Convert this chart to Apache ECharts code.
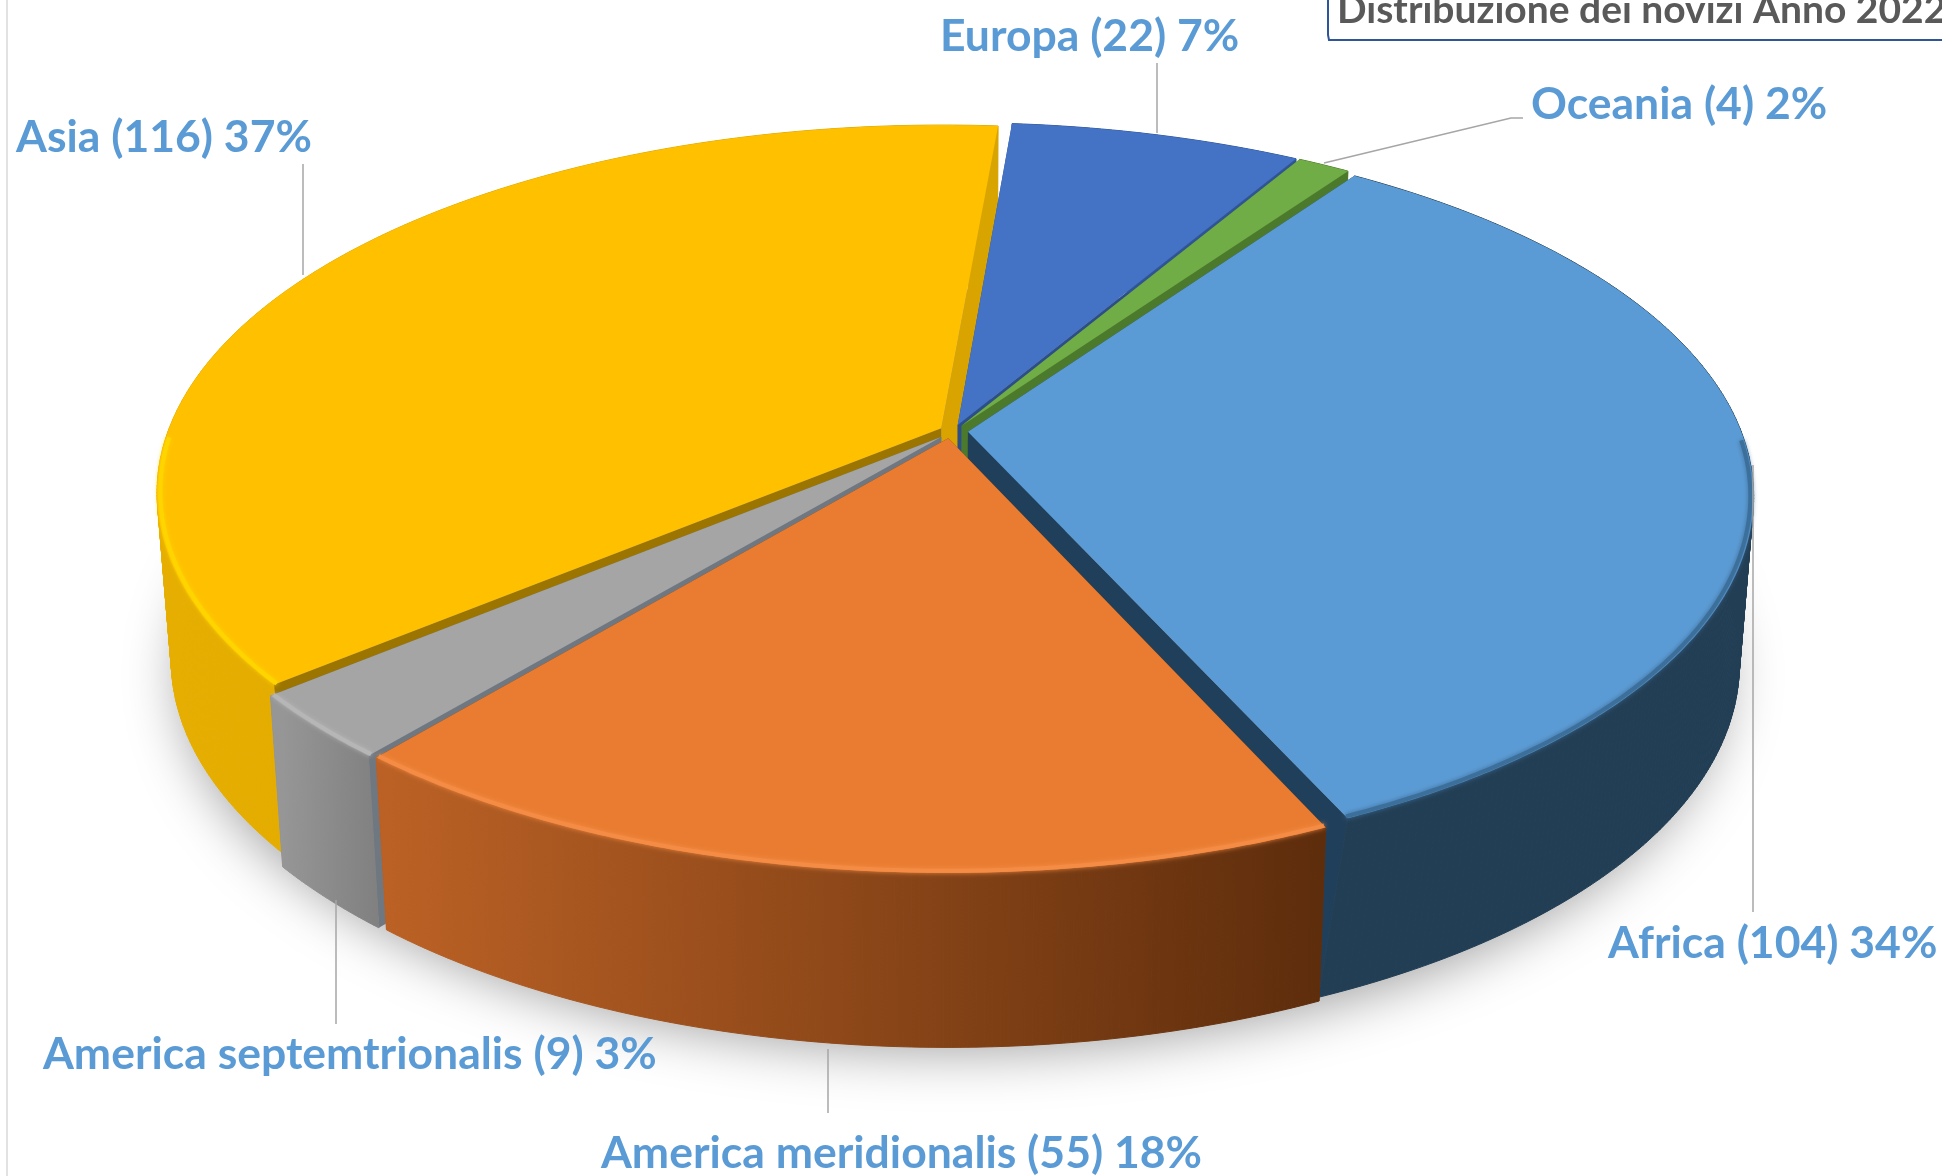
<!DOCTYPE html>
<html>
<head>
<meta charset="utf-8">
<style>
html,body{margin:0;padding:0;background:#fff;overflow:hidden}
#main{width:1942px;height:1176px}
</style>
<script src="https://cdn.jsdelivr.net/npm/echarts@6/dist/echarts.min.js"></script>
</head>
<body>
<div id="main"></div>
<script>
// valori del grafico, in senso orario a partire da Europa
var categories = ['Europa', 'Oceania', 'Africa', 'America meridionalis', 'America septemtrionalis', 'Asia'];
var values = [22, 4, 104, 55, 9, 116];
var percents = [7, 2, 34, 18, 3, 37];
var titleText = 'Distribuzione dei novizi Anno 2022';

// ordine di disegno: dal fondo verso chi guarda
var drawOrder = [5, 0, 1, 2, 4, 3];

// geometria della torta in prospettiva
var START = 4.8, K = 0.176, CX = 953, R = 0.985;
var TOP = {a: 786, b: 363, cy: 434};
var BOT = {a: 772, b: 370, cy: 600};
var explode = [[0.006, -0.025], [0.011, -0.023], [0.019, -0.006], [-0.006, 0.012], [-0.015, 0.008], [-0.015, -0.016]];
// la parete di Africa finisce un po' piu' a sinistra sul disco inferiore
var bottomSkew = [0, 0, 1.6, 0, 0, 0];

var looks = [
    {top: '#4472c4', rim: '#4472c4', side: ['#2f5597', '#2f5597'], cut: '#2c4f8c'},
    {top: '#70ad47', rim: '#70ad47', side: ['#4c7a2c', '#4c7a2c'], cut: '#4c7a2c'},
    {top: '#5b9bd5', rim: '#3d6f9b', side: ['#223e55', '#223e55'], cut: '#203f5a'},
    {top: '#e97c30', rim: '#f58c45', side: ['#bb6125', '#5e2d0c'], cut: '#7a3c12'},
    {top: '#a5a5a5', rim: '#b6b6b6', side: ['#969696', '#808080'], cut: '#6f7780'},
    {top: '#ffc000', rim: '#ffd500', side: ['#e6ae00', '#d8a400'], cut: '#d9a400'}
];
var cutColors = {5: ['#9b7500', '#d9a400']};

// posizione etichette e linee guida
var labelPos = [[940, 50], [1531, 118], [1608, 957], [601, 1167], [43, 1068], [16, 151]];
var leaders = [
    [[1157, 63], [1157, 133]],
    [[1324, 163], [1511, 118], [1523, 118]],
    [[1753, 465], [1753, 912]],
    [[828, 1049], [828, 1113]],
    [[336, 900], [336, 1024]],
    [[303, 164], [303, 275]]
];

var total = values.reduce(function (a, b) { return a + b; }, 0);
var spans = [];
var acc = START;
values.forEach(function (v) {
    var sweep = v / total * 360;
    spans.push([acc, acc + sweep]);
    acc += sweep;
});

function proj(u, v, P) {
    var w = 1 - K * v;
    return [CX + P.a * u / w, P.cy + P.b * v / w];
}
function rim(i, deg, P, radius) {
    var t = deg * Math.PI / 180;
    return proj(radius * Math.sin(t) + explode[i][0], -radius * Math.cos(t) + explode[i][1], P);
}
function apex(i, P) {
    return proj(explode[i][0], explode[i][1], P);
}
function arc(i, P, radius) {
    var pts = [];
    var a = spans[i][0], b = spans[i][1];
    if (P === BOT) {
        b += bottomSkew[i];
    }
    var n = 2 * Math.max(4, Math.ceil(spans[i][1] - spans[i][0]));
    for (var s = 0; s <= n; s++) {
        pts.push(rim(i, a + (b - a) * s / n, P, radius));
    }
    return pts;
}
function quad(p1, p2, p3, p4, fill) {
    return {type: 'polygon', shape: {points: [p1, p2, p3, p4]}, style: {fill: fill}};
}

function renderSlice(params, api) {
    var i = api.value(0);
    var look = looks[i];
    var topArc = arc(i, TOP, R), botArc = arc(i, BOT, R);
    var cuts = cutColors[i] || [look.cut, look.cut];
    var children = [];
    // pareti dei due tagli radiali
    children.push(quad(apex(i, TOP), topArc[0], botArc[0], apex(i, BOT), cuts[0]));
    children.push(quad(apex(i, TOP), topArc[topArc.length - 1], botArc[botArc.length - 1], apex(i, BOT), cuts[1]));
    // parete esterna, a strisce cosi' resta piena anche sui fianchi
    var xs = botArc.map(function (p) { return p[0]; });
    var sideFill = new echarts.graphic.LinearGradient(Math.min.apply(null, xs), 0, Math.max.apply(null, xs), 0, [
        {offset: 0, color: look.side[0]},
        {offset: 1, color: look.side[1]}
    ], true);
    for (var s = 0; s < topArc.length - 1; s++) {
        children.push({
            type: 'polygon',
            shape: {points: [topArc[s], topArc[s + 1], botArc[s + 1], botArc[s]]},
            style: {fill: sideFill, stroke: sideFill, lineWidth: 1}
        });
    }
    // faccia superiore
    children.push({
        type: 'polygon',
        shape: {points: [apex(i, TOP)].concat(topArc)},
        style: {fill: look.top}
    });
    // bordo smussato sul davanti
    var inner = arc(i, TOP, R - 0.004);
    var front = inner.filter(function (p, idx) {
        var d = spans[i][0] + (spans[i][1] - spans[i][0]) * idx / (inner.length - 1);
        return Math.cos(d * Math.PI / 180) < -0.02;
    });
    if (front.length > 1) {
        children.push({
            type: 'polyline',
            shape: {points: front},
            style: {fill: null, stroke: look.rim, lineWidth: 4, shadowBlur: 5, shadowColor: look.rim}
        });
    }
    return {type: 'group', children: children};
}

function renderShadow() {
    var pts = [];
    for (var d = 0; d < 360; d += 3) {
        var t = d * Math.PI / 180;
        pts.push(proj(R * Math.sin(t), -R * Math.cos(t), BOT));
    }
    return {
        type: 'polygon',
        shape: {points: pts},
        style: {fill: '#888', shadowBlur: 55, shadowColor: 'rgba(0,0,0,0.38)', shadowOffsetY: 10}
    };
}

function renderLabel(params, api) {
    var i = api.value(0);
    var pos = labelPos[i];
    return {
        type: 'group',
        children: [
            {
                type: 'polyline',
                shape: {points: leaders[i]},
                style: {fill: null, stroke: '#a6a6a6', lineWidth: 1.5}
            },
            {
                type: 'text',
                style: {
                    x: pos[0],
                    y: pos[1] + 9,
                    text: categories[i] + ' (' + values[i] + ') ' + percents[i] + '%',
                    fill: '#5b9bd5',
                    font: 'bold 44.5px Lato',
                    textAlign: 'left',
                    textVerticalAlign: 'bottom'
                }
            }
        ]
    };
}

var chart = echarts.init(document.getElementById('main'), null, {renderer: 'canvas'});
chart.setOption({
    animation: false,
    backgroundColor: '#fff',
    title: {
        text: titleText,
        left: 1337,
        top: -9,
        padding: 0,
        textStyle: {color: '#595959', fontFamily: 'Lato', fontWeight: 'bold', fontSize: 39}
    },
    graphic: [
        {
            type: 'polyline',
            shape: {points: [[1328, 0], [1328, 35], [1329, 40], [1942, 40]]},
            style: {fill: null, stroke: '#2f5597', lineWidth: 2}
        },
        {
            type: 'line',
            shape: {x1: 7, y1: 0, x2: 7, y2: 1176},
            style: {stroke: '#d9d9d9', lineWidth: 1.5}
        }
    ],
    series: [
        {type: 'custom', coordinateSystem: 'none', silent: true, z: 1, data: [[0]], renderItem: renderShadow},
        {
            type: 'custom',
            coordinateSystem: 'none',
            silent: true,
            z: 2,
            data: drawOrder.map(function (i) { return [i, values[i]]; }),
            renderItem: renderSlice
        },
        {
            type: 'custom',
            coordinateSystem: 'none',
            silent: true,
            z: 3,
            data: categories.map(function (c, i) { return [i, values[i]]; }),
            renderItem: renderLabel
        }
    ]
});
</script>
</body>
</html>
